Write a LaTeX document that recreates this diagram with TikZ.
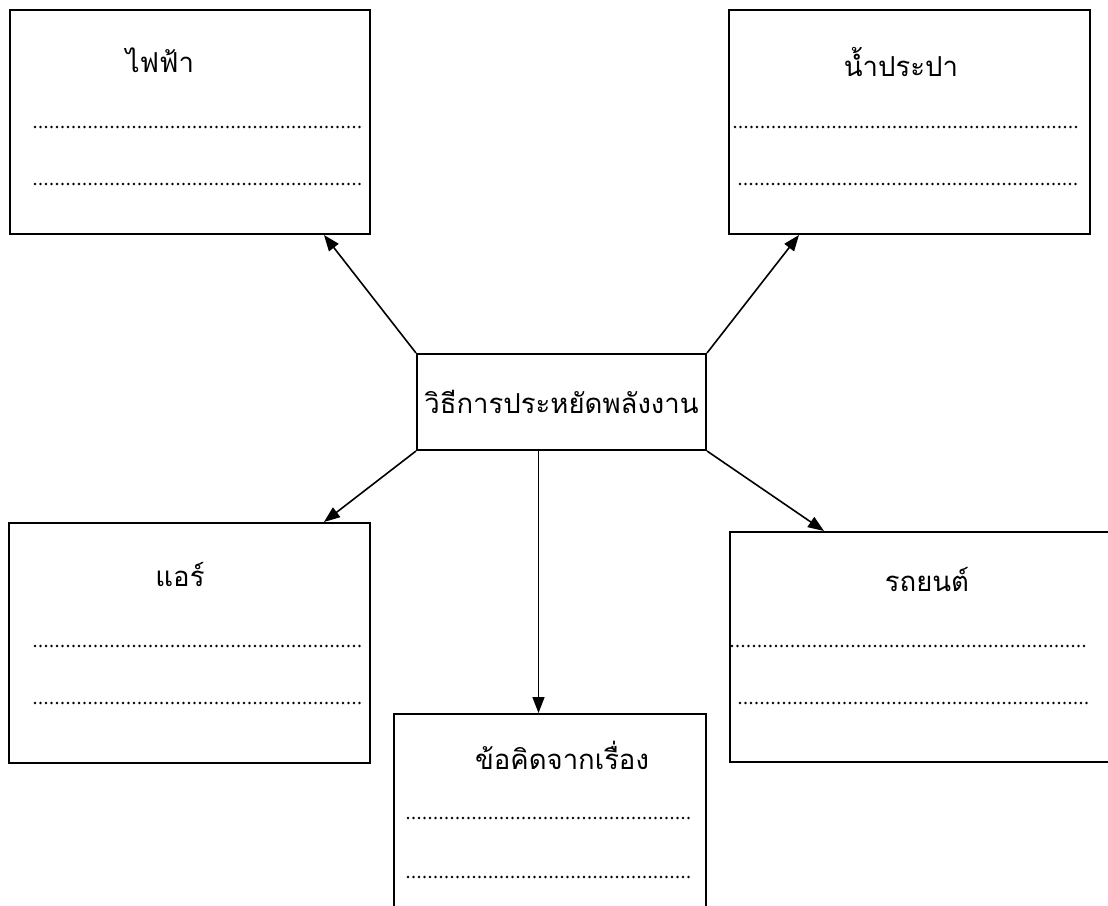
\documentclass[tikz,border=0pt]{standalone}
\usepackage{fontspec}
\newfontfamily\thaifont[Script=Thai]{Loma}
\usetikzlibrary{arrows.meta}
\tikzset{
    box/.style={draw, line width=2pt, rectangle, inner sep=0pt},
    title/.style={font=\thaifont\fontsize{27.5}{30}\selectfont},
    dotrow/.style={line width=2.6pt, line cap=round, dash pattern=on 0pt off 5.5pt},
    arr/.style={line width=1.6pt, -{Triangle[length=16pt,width=12pt]}}
}
\begin{document}
\begin{tikzpicture}[x=1pt,y=-1pt]
                \useasboundingbox (0,0) rectangle (1108,905);
                \clip (0,0) rectangle (1108,905);
                % boxes
                \node[box, minimum width=360, minimum height=224] (elec) at (190,122) {};
                \node[box, minimum width=361, minimum height=224] (water) at (909.5,122) {};
                \node[box, minimum width=289, minimum height=96, title] (centre) at (561.5,402) {วิธีการประหยัดพลังงาน};
                \node[box, minimum width=361, minimum height=240] (air) at (189.5,643) {};
                \node[box, minimum width=400, minimum height=230] (car) at (930,647) {};
                \node[box, minimum width=312, minimum height=236] (lesson) at (550,832) {};
                % titles
                \node[title] (elecname) at (160,60) {ไฟฟ้า};
                \node[title] (watername) at (901,62) {น้ำประปา};
                \node[title] (airname) at (180,575) {แอร์};
                \node[title] (carname) at (927,580) {รถยนต์};
                \node[title] (lessonname) at (562,755) {ข้อคิดจากเรื่อง};
                % dotted rows
                \draw[dotrow] (35,127) -- (363,127);
                \draw[dotrow] (35,184) -- (363,184);
                \draw[dotrow] (735,127) -- (1076,127);
                \draw[dotrow] (740,184) -- (1076,184);
                \draw[dotrow] (35,646) -- (363,646);
                \draw[dotrow] (35,703) -- (363,703);
                \draw[dotrow] (732,646) -- (1087,646);
                \draw[dotrow] (740,703) -- (1087,703);
                \draw[dotrow] (408,818) -- (693,818);
                \draw[dotrow] (408,877) -- (693,877);
                % arrows
                \draw[arr] (centre.north west) -- ([xshift=-47]elec.south east);
                \draw[arr] (centre.north east) -- ([xshift=71]water.south west);
                \draw[arr] (centre.south west) -- ([xshift=-47]air.north east);
                \draw[arr] (centre.south east) -- ([xshift=95]car.north west);
                \draw[arr] ([xshift=-23]centre.south) -- ([xshift=-23]centre.south |- lesson.north);
            \end{tikzpicture}
\end{document}
